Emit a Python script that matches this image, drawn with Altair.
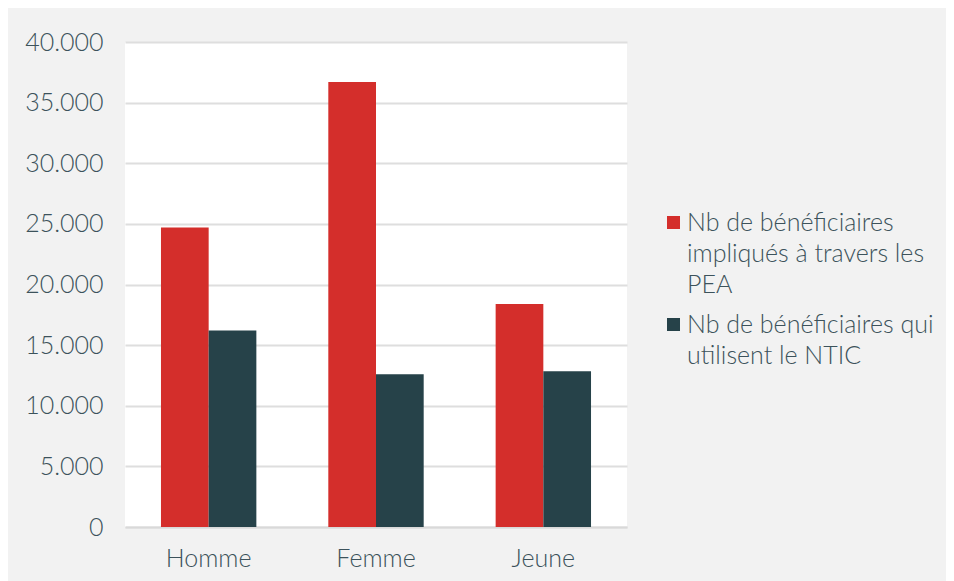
import altair as alt
import pandas as pd

categories = ["Homme", "Femme", "Jeune"]
series = [
    "Nb de bénéficiaires impliqués à travers les PEA",
    "Nb de bénéficiaires qui utilisent le NTIC",
]
pea_values = [24700, 36700, 18400]
ntic_values = [16200, 12600, 12850]
y_ticks = [0, 5000, 10000, 15000, 20000, 25000, 30000, 35000, 40000]
colors = ["#d42e2b", "#264249"]

rows = []
for c, a, b in zip(categories, pea_values, ntic_values):
    rows.append({"categorie": c, "serie": series[0], "valeur": a})
    rows.append({"categorie": c, "serie": series[1], "valeur": b})
df = pd.DataFrame(rows)

FONT = "Lato"
TXT = "#3c525b"
FS = 25
FW = 300

legend_expr = (
    "datum.label == '" + series[0] + "' ? "
    "['Nb de bénéficiaires', 'impliqués à travers les', 'PEA'] : "
    "['Nb de bénéficiaires qui', 'utilisent le NTIC']"
)

chart = (
    alt.Chart(df)
    .mark_bar()
    .encode(
        x=alt.X(
            "categorie:N",
            sort=categories,
            scale=alt.Scale(paddingInner=0.43, paddingOuter=0.215),
            axis=alt.Axis(
                title=None,
                labelAngle=0,
                ticks=False,
                domain=True,
                domainColor="#d9d9d9",
                domainWidth=2,
                labelPadding=19,
                labelFontSize=FS,
                labelFontWeight=FW,
                labelFont=FONT,
                labelColor=TXT,
            ),
        ),
        xOffset=alt.XOffset(
            "serie:N", sort=series, scale=alt.Scale(paddingInner=0, paddingOuter=0)
        ),
        y=alt.Y(
            "valeur:Q",
            scale=alt.Scale(domain=[0, 40000]),
            axis=alt.Axis(
                title=None,
                values=y_ticks,
                labelExpr="replace(format(datum.value, ','), /,/g, '.')",
                grid=True,
                gridColor="#dedede",
                gridWidth=2,
                domain=False,
                ticks=False,
                labelPadding=22,
                labelFontSize=FS,
                labelFontWeight=FW,
                labelFont=FONT,
                labelColor=TXT,
            ),
        ),
        color=alt.Color(
            "serie:N",
            sort=series,
            scale=alt.Scale(domain=series, range=colors),
            legend=alt.Legend(
                title=None,
                orient="none",
                legendX=536,
                legendY=168,
                padding=0,
                symbolType="square",
                symbolSize=170,
                symbolStrokeWidth=0,
                labelExpr=legend_expr,
                labelFontSize=FS,
                labelFontWeight=FW,
                labelFont=FONT,
                labelColor=TXT,
                labelLimit=400,
                labelOffset=1,
                labelBaseline="middle",
                rowPadding=14,
            ),
        ),
    )
    .properties(
        width=502,
        height=485,
        autosize=alt.AutoSizeParams(type="none"),
        padding={"left": 117, "top": 34, "right": 319, "bottom": 54},
    )
    .configure(background="#f2f2f2", style={"guide-label": {"lineHeight": 31}})
    .configure_view(fill="white", stroke=None)
)

chart.save("out.html", embed_options={"renderer": "svg", "actions": False})
